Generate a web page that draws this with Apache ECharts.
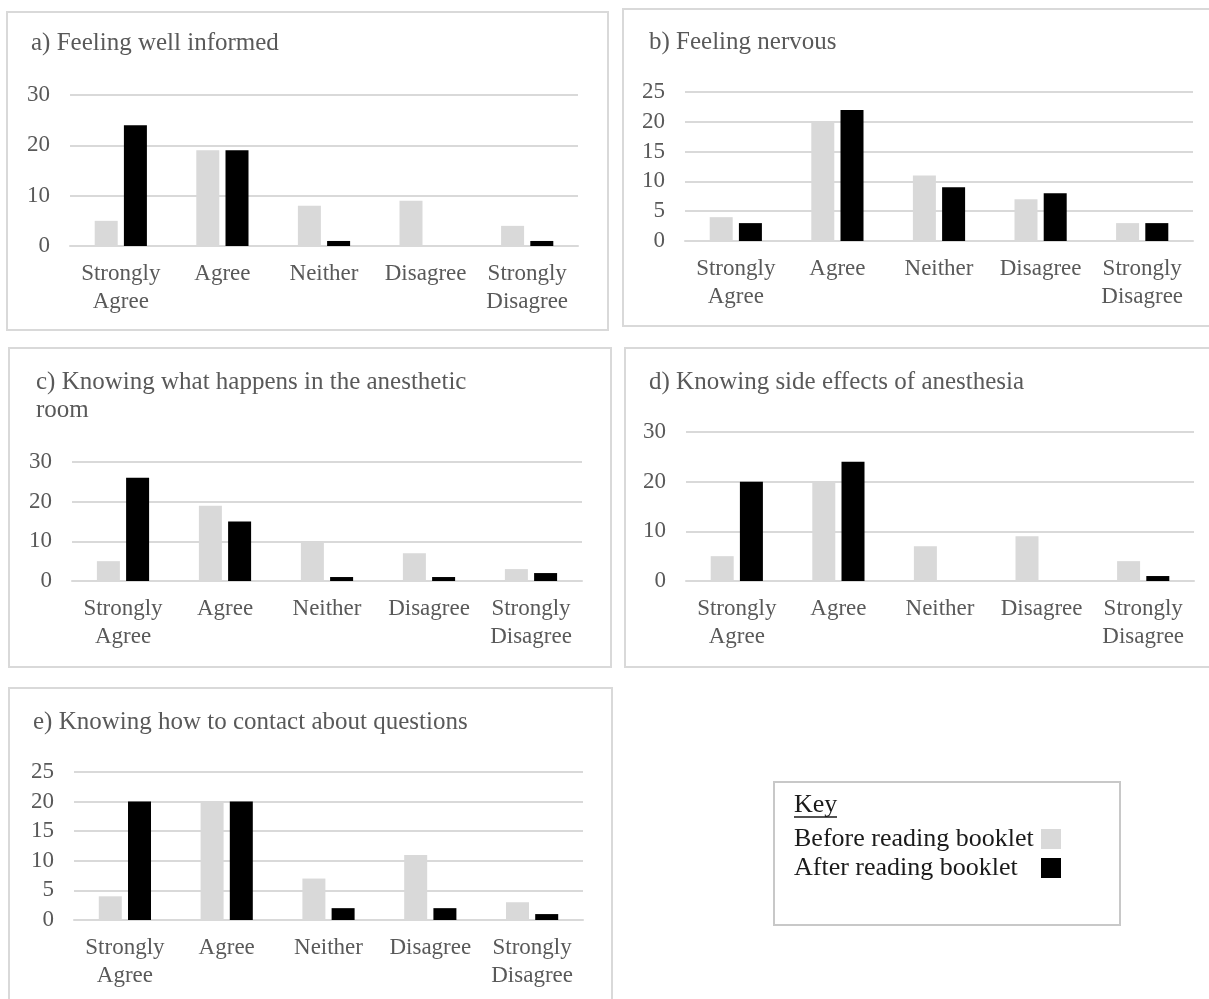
<!DOCTYPE html>
<html>
<head>
<meta charset="utf-8">
<script src="https://cdn.jsdelivr.net/npm/echarts@6/dist/echarts.min.js"></script>
<style>
  html, body { margin: 0; padding: 0; background: #fff; }
  #chart { width: 1209px; height: 999px; }
</style>
</head>
<body>
<div id="chart"></div>
<script>
const categories = ['Strongly\nAgree', 'Agree', 'Neither', 'Disagree', 'Strongly\nDisagree'];
const seriesNames = ['Before reading booklet', 'After reading booklet'];

const titleA = 'a) Feeling well informed';
const beforeA = [5, 19, 8, 9, 4];
const afterA = [24, 19, 1, 0, 1];

const titleB = 'b) Feeling nervous';
const beforeB = [4, 20, 11, 7, 3];
const afterB = [3, 22, 9, 8, 3];

const titleC = 'c) Knowing what happens in the anesthetic\nroom';
const beforeC = [5, 19, 10, 7, 3];
const afterC = [26, 15, 1, 1, 2];

const titleD = 'd) Knowing side effects of anesthesia';
const beforeD = [5, 20, 7, 9, 4];
const afterD = [20, 24, 0, 0, 1];

const titleE = 'e) Knowing how to contact about questions';
const beforeE = [4, 20, 7, 11, 3];
const afterE = [20, 20, 2, 2, 1];

const yMaxA = 30, yStepA = 10;
const yMaxB = 25, yStepB = 5;
const yMaxC = 30, yStepC = 10;
const yMaxD = 30, yStepD = 10;
const yMaxE = 25, yStepE = 5;

const keyTitle = 'Key';

const FONT = '"Liberation Serif", "DejaVu Serif", serif';
const TXT = '#595959';
const GRIDC = '#d9d9d9';
const COL_BEFORE = '#d9d9d9';
const COL_AFTER = '#000000';

const panels = [
  { title: titleA, before: beforeA, after: afterA, max: yMaxA, step: yStepA,
    grid: { left: 70, top: 95, width: 508, height: 151 }, tpos: { left: 31, top: 29 },
    box: [7, 12, 601, 318] },
  { title: titleB, before: beforeB, after: afterB, max: yMaxB, step: yStepB,
    grid: { left: 685, top: 92, width: 508, height: 149 }, tpos: { left: 649, top: 28 },
    box: [623, 9, 600, 317] },
  { title: titleC, before: beforeC, after: afterC, max: yMaxC, step: yStepC,
    grid: { left: 72, top: 462, width: 510, height: 119 }, tpos: { left: 36, top: 368 },
    box: [9, 348, 602, 319] },
  { title: titleD, before: beforeD, after: afterD, max: yMaxD, step: yStepD,
    grid: { left: 686, top: 432, width: 508, height: 149 }, tpos: { left: 649, top: 368 },
    box: [625, 348, 600, 319] },
  { title: titleE, before: beforeE, after: afterE, max: yMaxE, step: yStepE,
    grid: { left: 74, top: 772, width: 509, height: 148 }, tpos: { left: 33, top: 708 },
    box: [9, 688, 603, 330] }
];

const option = {
  backgroundColor: '#fff',
  animation: false,
  textStyle: { fontFamily: FONT },
  title: panels.map(p => ({
    text: p.title,
    left: p.tpos.left,
    top: p.tpos.top,
    padding: 0,
    textStyle: { fontFamily: FONT, fontSize: 25, fontWeight: 'normal', color: TXT, lineHeight: 28 }
  })),
  legend: {
    data: seriesNames,
    orient: 'vertical',
    left: 794,
    top: 826,
    align: 'right',
    icon: 'rect',
    itemWidth: 20,
    itemHeight: 20,
    itemGap: 3,
    padding: 0,
    formatter: '{n|{name}}',
    textStyle: {
      fontFamily: FONT, fontSize: 26, color: '#1a1a1a', lineHeight: 26,
      rich: { n: { width: 242, align: 'left', fontFamily: FONT, fontSize: 26, color: '#1a1a1a', lineHeight: 26 } }
    }
  },
  grid: panels.map(p => ({ left: p.grid.left, top: p.grid.top, width: p.grid.width, height: p.grid.height, containLabel: false })),
  xAxis: panels.map((p, i) => ({
    type: 'category',
    gridIndex: i,
    data: categories,
    axisTick: { show: false },
    axisLine: { lineStyle: { color: GRIDC, width: 2 } },
    axisLabel: { color: TXT, fontFamily: FONT, fontSize: 23, lineHeight: 28, margin: 14, interval: 0 }
  })),
  yAxis: panels.map((p, i) => ({
    type: 'value',
    gridIndex: i,
    min: 0,
    max: p.max,
    interval: p.step,
    axisLine: { show: false },
    axisTick: { show: false },
    splitLine: { lineStyle: { color: GRIDC, width: 2 } },
    axisLabel: { color: TXT, fontFamily: FONT, fontSize: 23, margin: 20 }
  })),
  series: panels.flatMap((p, i) => [
    { name: seriesNames[0], type: 'bar', xAxisIndex: i, yAxisIndex: i, data: p.before,
      barWidth: 23, barGap: '27%', itemStyle: { color: COL_BEFORE } },
    { name: seriesNames[1], type: 'bar', xAxisIndex: i, yAxisIndex: i, data: p.after,
      barWidth: 23, barGap: '27%', itemStyle: { color: COL_AFTER } }
  ]),
  graphic: [
    ...panels.map(p => ({
      type: 'rect', silent: true, z: -10,
      shape: { x: p.box[0], y: p.box[1], width: p.box[2], height: p.box[3] },
      style: { fill: null, stroke: GRIDC, lineWidth: 2 }
    })),
    { type: 'rect', silent: true, z: -10,
      shape: { x: 774, y: 782, width: 346, height: 143 },
      style: { fill: null, stroke: '#c8c8c8', lineWidth: 2 } },
    { type: 'text', silent: true, left: 794, top: 792,
      style: { text: keyTitle, font: '26px ' + FONT, fill: '#1a1a1a' } },
    { type: 'line', silent: true,
      shape: { x1: 794, y1: 817, x2: 837, y2: 817 },
      style: { stroke: '#1a1a1a', lineWidth: 1.5 } }
  ]
};

const chart = echarts.init(document.getElementById('chart'), null, { renderer: 'canvas' });
chart.setOption(option);
</script>
</body>
</html>
